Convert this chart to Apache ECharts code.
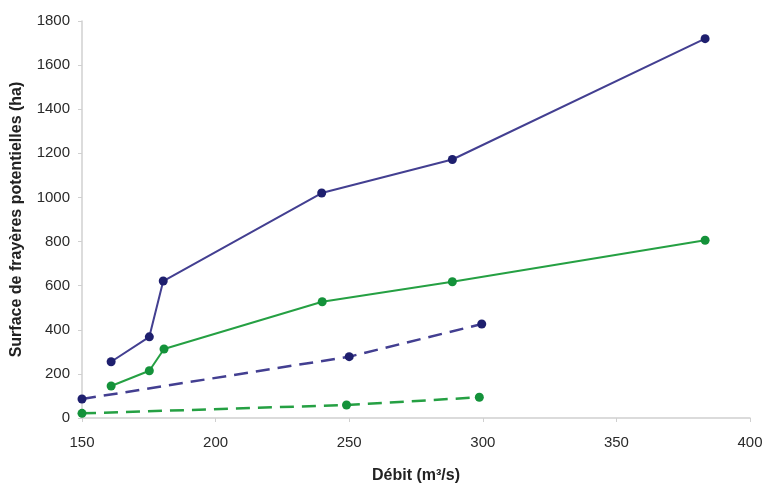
<!DOCTYPE html>
<html>
<head>
<meta charset="utf-8">
<script src="https://cdn.jsdelivr.net/npm/echarts@6/dist/echarts.min.js"></script>
<style>html,body{margin:0;padding:0;background:#fff}#c{width:771px;height:483px}</style>
</head>
<body>
<div id="c"></div>
<script>
// Data
var blueSolidX = [160.9, 175.2, 180.4, 239.7, 288.6, 383.2];
var blueSolidY = [255, 368, 621, 1020, 1172, 1720];
var greenSolidX = [160.9, 175.2, 180.7, 239.9, 288.6, 383.2];
var greenSolidY = [145, 214, 313, 527, 618, 806];
var blueDashX = [150, 250, 299.6];
var blueDashY = [86, 278, 426];
var greenDashX = [150, 249, 298.7];
var greenDashY = [21, 59, 94];
var xTitle = 'Débit (m³/s)';
var yTitle = 'Surface de frayères potentielles (ha)';

function pairs(xs, ys) { return xs.map(function (x, i) { return [x, ys[i]]; }); }

var BLUE_LINE = '#433f91', BLUE_DOT = '#1e1f6e';
var GREEN_LINE = '#25a043', GREEN_DOT = '#14923a';
var FONT = 'Liberation Sans, Arial, sans-serif';

function series(data, lineColor, dotColor, dashed) {
  return {
    type: 'line',
    data: data,
    symbol: 'circle',
    symbolSize: 9,
    showSymbol: true,
    itemStyle: { color: dotColor },
    lineStyle: { color: lineColor, width: dashed ? 2.5 : 2, type: dashed ? [14, 8] : 'solid' },
    emphasis: { disabled: true },
    animation: false
  };
}

var chart = echarts.init(document.getElementById('c'), null, { renderer: 'canvas' });
chart.setOption({
  backgroundColor: '#fff',
  animation: false,
  grid: { left: 82, right: 21, top: 21, bottom: 65, containLabel: false, outerBoundsMode: 'none' },
  xAxis: {
    type: 'value', min: 150, max: 400, interval: 50,
    name: xTitle, nameLocation: 'middle', nameGap: 50,
    nameTextStyle: { fontFamily: FONT, fontSize: 16, fontWeight: 'bold', color: '#222' },
    axisLine: { show: true, lineStyle: { color: '#d0d0d0', width: 1.5 } },
    axisTick: { show: true, length: 4, lineStyle: { color: '#d0d0d0' } },
    axisLabel: { fontFamily: FONT, fontSize: 15, color: '#2a2a2a', margin: 17,
      formatter: function (v) { return String(v); } },
    splitLine: { show: false }
  },
  yAxis: {
    type: 'value', min: 0, max: 1800, interval: 200,
    name: yTitle, nameLocation: 'middle', nameGap: 57,
    nameTextStyle: { fontFamily: FONT, fontSize: 16, fontWeight: 'bold', color: '#222' },
    axisLine: { show: true, lineStyle: { color: '#d0d0d0', width: 1.5 } },
    axisTick: { show: true, length: 4, lineStyle: { color: '#d0d0d0' } },
    axisLabel: { fontFamily: FONT, fontSize: 15, color: '#2a2a2a', margin: 12,
      formatter: function (v) { return String(v); } },
    splitLine: { show: false }
  },
  series: [
    series(pairs(blueSolidX, blueSolidY), BLUE_LINE, BLUE_DOT, false),
    series(pairs(greenSolidX, greenSolidY), GREEN_LINE, GREEN_DOT, false),
    series(pairs(blueDashX, blueDashY), BLUE_LINE, BLUE_DOT, true),
    series(pairs(greenDashX, greenDashY), GREEN_LINE, GREEN_DOT, true)
  ]
});
</script>
</body>
</html>
